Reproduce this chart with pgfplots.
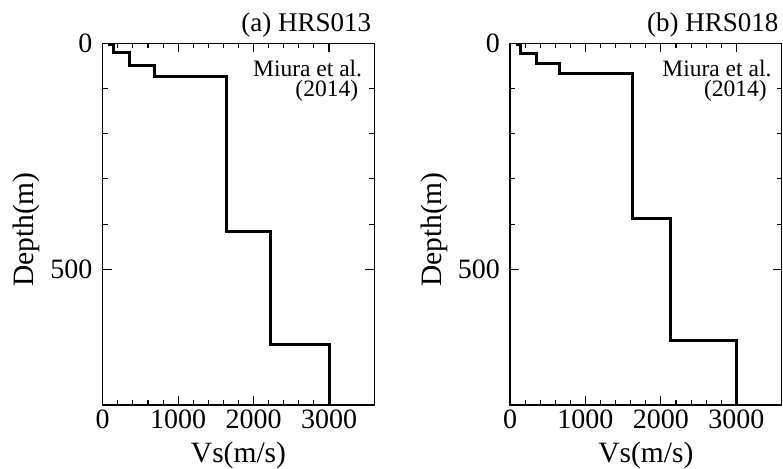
\documentclass[border=0pt]{standalone}
\usepackage{fontspec}
\setmainfont{Liberation Serif}
\usepackage{pgfplots}
\pgfplotsset{compat=1.18}

\pgfplotsset{
  vsprof/.style={
    scale only axis, width=271.6pt, height=361.7pt,
    xmin=0, xmax=3600, ymin=0, ymax=800, y dir=reverse,
    clip mode=individual,
    xtick={0,1000,2000,3000}, minor x tick num=4,
    ytick={0,500}, minor y tick num=4,
    major tick length=9pt, minor tick length=5pt,
    tick align=inside, tick style={line width=1.1pt, black},
    axis line style={line width=1.2pt},
    /pgf/number format/assume math mode=true,
    /pgf/number format/set thousands separator={},
    ticklabel style={font=\fontsize{28}{31}\selectfont},
    xticklabel style={inner sep=0pt, yshift=-5pt},
    yticklabel style={inner sep=0pt, xshift=-10pt},
    label style={font=\fontsize{29.5}{32}\selectfont},
    xlabel={Vs(m/s)}, ylabel={Depth(m)},
    xlabel style={at={(axis description cs:0.5,-0.1576)}, anchor=base},
    ylabel style={at={(axis description cs:-0.253,0.485)}, anchor=base},
  },
  prof/.style={black, line width=3pt, line join=miter, no markers},
}
\tikzset{
  srcnote/.style={anchor=base east, inner sep=0pt, font=\fontsize{23.5}{26}\selectfont},
  paneltitle/.style={anchor=base east, inner sep=0pt, font=\fontsize{27}{30}\selectfont},
}

\begin{document}
\begin{tikzpicture}
\path[use as bounding box] (-102.7pt,-63pt) rectangle (680.3pt,405pt);

% (a) HRS013
\begin{axis}[vsprof]
\addplot[prof] coordinates {
  (90,0) (90,3) (140,3) (140,20) (360,20) (360,48) (690,48) (690,74)
  (1640,74) (1640,417) (2225,417) (2225,667) (3000,667) (3000,800)
};
\node[paneltitle, xshift=-3pt, yshift=12pt] at (axis description cs:1,1) {(a) HRS013};
\node[srcnote, xshift=-12pt, yshift=-32.7pt] at (axis description cs:1,1) {Miura et al.};
\node[srcnote, xshift=-16pt, yshift=-53pt] at (axis description cs:1,1) {(2014)};
\end{axis}

% (b) HRS018
\begin{axis}[vsprof, at={(407.3pt,0)}]
\addplot[prof] coordinates {
  (100,0) (100,2) (135,2) (135,22) (355,22) (355,44) (650,44) (650,66)
  (1630,66) (1630,388) (2130,388) (2130,658) (3000,658) (3000,800)
};
\node[paneltitle, xshift=-3pt, yshift=12pt] at (axis description cs:1,1) {(b) HRS018};
\node[srcnote, xshift=-10pt, yshift=-32.7pt] at (axis description cs:1,1) {Miura et al.};
\node[srcnote, xshift=-14.7pt, yshift=-53pt] at (axis description cs:1,1) {(2014)};
\end{axis}
\end{tikzpicture}
\end{document}
